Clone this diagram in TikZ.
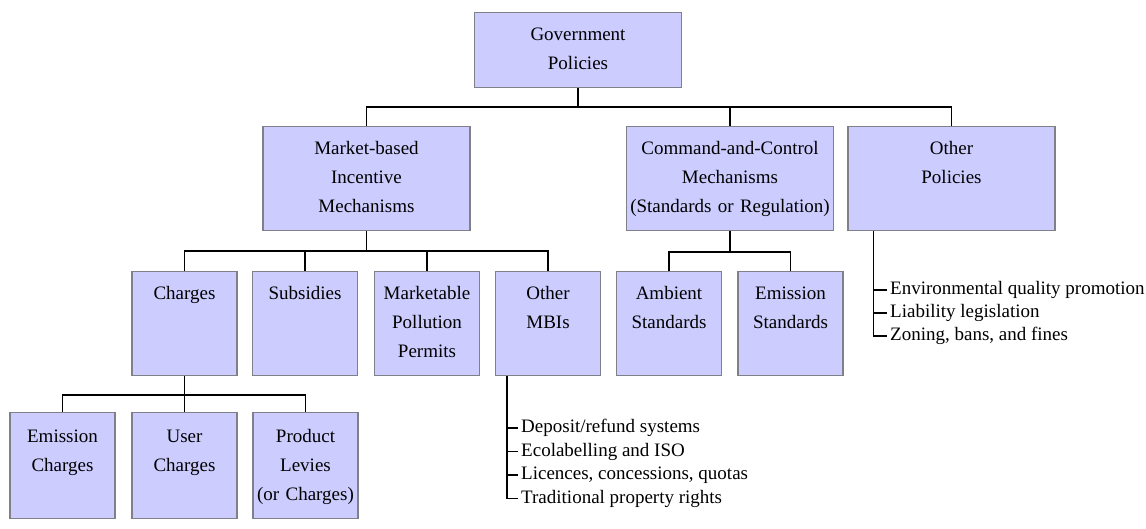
\documentclass[tikz,border=0pt]{standalone}
\usepackage{fontspec}
\setmainfont{Liberation Serif}
\definecolor{boxfill}{RGB}{204,204,255}
\definecolor{boxline}{RGB}{128,128,136}

\begin{document}
\begin{tikzpicture}[x=1pt, y=-1pt,
    policy/.style={draw=boxline, line width=1.2pt, fill=boxfill, anchor=north, align=center,
      inner sep=0pt, text height=28pt, text depth=76pt, font=\fontsize{19}{29}\selectfont},
    wide/.style={policy, text width=207pt},
    narrow/.style={policy, text width=105pt},
    item/.style={anchor=west, inner xsep=3pt, inner ysep=0pt, font=\fontsize{19}{29}\selectfont},
    link/.style={line width=1.5pt}]
  \useasboundingbox (0,0) rectangle (1146,529);

  % Top of the tree
  \node[wide, text depth=47pt] (gp) at (578, 12) {Government\\Policies};

  % Second level
  \node[wide] (mbm) at (366.5, 126) {Market-based\\Incentive\\Mechanisms};
  \node[wide] (cac) at (730, 126) {Command-and-Control\\Mechanisms\\(Standards or Regulation)};
  \node[wide] (oth) at (951.5, 126) {Other\\Policies};

  % Third level
  \node[narrow] (chg) at (184.5, 271) {Charges};
  \node[narrow] (sub) at (305, 271) {Subsidies};
  \node[narrow] (mpp) at (427, 271) {Marketable\\Pollution\\Permits};
  \node[narrow] (mbi) at (548, 271) {Other\\MBIs};
  \node[narrow] (amb) at (669, 271) {Ambient\\Standards};
  \node[narrow] (est) at (790.5, 271) {Emission\\Standards};

  % Fourth level
  \node[narrow, text height=30pt] (ech) at (62.5, 412) {Emission\\Charges};
  \node[narrow, text height=30pt] (uch) at (184.5, 412) {User\\Charges};
  \node[narrow, text height=30pt] (plv) at (305.5, 412) {Product\\Levies\\(or Charges)};

  % Lists hanging below boxes
  \node[item] (d1) at (518, 428) {Deposit/refund systems};
  \node[item] (d2) at (518, 451.5) {Ecolabelling and ISO};
  \node[item] (d3) at (518, 475) {Licences, concessions, quotas};
  \node[item] (d4) at (518, 498.5) {Traditional property rights};
  \node[item] (p1) at (887, 290) {Environmental quality promotion};
  \node[item] (p2) at (887, 313) {Liability legislation};
  \node[item] (p3) at (887, 336) {Zoning, bans, and fines};
  \coordinate (mbiline) at ([xshift=12pt]mbi.south west);
  \coordinate (othline) at ([xshift=26pt]oth.south west);

  % Tree connectors
  \draw [link] (gp.south) -- ++(0,19) -| (mbm.north);
  \draw [link] (gp.south) -- ++(0,19) -| (cac.north);
  \draw [link] (gp.south) -- ++(0,19) -| (oth.north);
  \draw [link] (mbm.south) -- ++(0,20) -| (chg.north);
  \draw [link] (mbm.south) -- ++(0,20) -| (sub.north);
  \draw [link] (mbm.south) -- ++(0,20) -| (mpp.north);
  \draw [link] (mbm.south) -- ++(0,20) -| (mbi.north);
  \draw [link] (cac.south) -- ++(0,21) -| (amb.north);
  \draw [link] (cac.south) -- ++(0,21) -| (est.north);
  \draw [link] (chg.south) -- ++(0,19) -| (ech.north);
  \draw [link] (chg.south) -- ++(0,19) -| (uch.north);
  \draw [link] (chg.south) -- ++(0,19) -| (plv.north);

  % List connectors
  \draw [link] (mbiline) |- (d4.west);
  \draw [link] (d1.west) -- (d1.west -| mbiline);
  \draw [link] (d2.west) -- (d2.west -| mbiline);
  \draw [link] (d3.west) -- (d3.west -| mbiline);
  \draw [link] (othline) |- (p3.west);
  \draw [link] (p1.west) -- (p1.west -| othline);
  \draw [link] (p2.west) -- (p2.west -| othline);
\end{tikzpicture}
\end{document}
